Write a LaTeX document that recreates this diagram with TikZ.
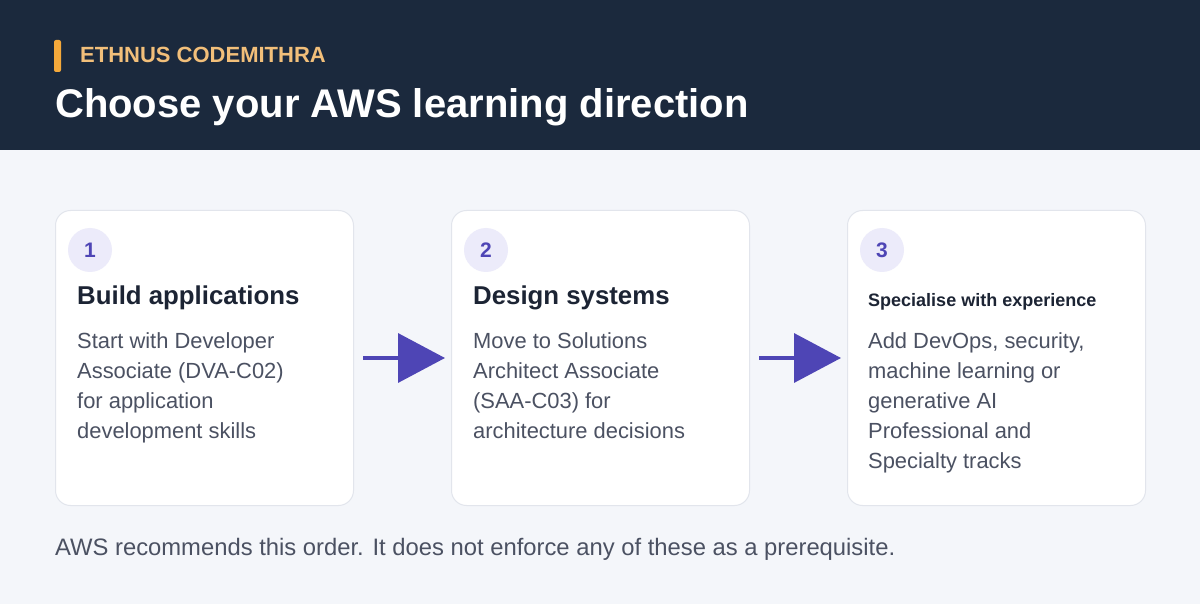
\documentclass[tikz,border=0pt]{standalone}
\usepackage{fontspec}
\setmainfont{Liberation Sans}
\usetikzlibrary{arrows.meta}
\definecolor{hdr}{HTML}{1B293D}
\definecolor{bg}{HTML}{F4F6FA}
\definecolor{cardline}{HTML}{E2E5EC}
\definecolor{accent}{HTML}{4E45B5}
\definecolor{numbg}{HTML}{ECEBFA}
\definecolor{headc}{HTML}{1C2434}
\definecolor{bodyc}{HTML}{4B5162}
\definecolor{brand}{HTML}{F2BF7A}
\definecolor{barc}{HTML}{F5A93B}
\tikzset{
  card/.style={draw=cardline, line width=1pt, fill=white, rounded corners=15pt, minimum width=298pt, minimum height=295pt, anchor=north west, inner sep=0pt},
  numcirc/.style={circle, fill=numbg, minimum size=44pt, inner sep=0pt, text=accent, font=\fontsize{21}{24}\selectfont\bfseries},
  cardhead/.style={anchor=base west, inner sep=0pt, text=headc, font=\fontsize{25.8}{30}\selectfont\bfseries},
  smallhead/.style={anchor=base west, inner sep=0pt, text=headc, font=\fontsize{18}{22}\selectfont\bfseries},
  cardbody/.style={anchor=base west, inner sep=0pt, text=bodyc, align=left, font=\fontsize{21.9}{30}\selectfont},
  flow/.style={draw=accent, line width=3.5pt, -{Triangle[length=47pt,width=49pt]}, fill=accent, shorten <=9pt, shorten >=6pt}
}
\begin{document}
\begin{tikzpicture}[x=1pt,y=-1pt]
\useasboundingbox (0,0) rectangle (1200,604);
\fill[bg] (0,0) rectangle (1200,604);
\fill[hdr] (0,0) rectangle (1200,150);
\fill[barc, rounded corners=2pt] (54,40) rectangle (61,72);
\node[anchor=base west, inner sep=0pt, text=brand, font=\fontsize{22}{26}\selectfont\bfseries] (brandtxt) at (80,63) {ETHNUS CODEMITHRA};
\node[anchor=base west, inner sep=0pt, text=white, font=\fontsize{40}{46}\selectfont\bfseries] (title) at (55,118) {Choose your AWS learning direction};

\node[card] (card1) at (55,210) {};
\node[card] (card2) at (451,210) {};
\node[card] (card3) at (847,210) {};

\node[numcirc] (num1) at (90,250) {1};
\node[numcirc] (num2) at (486,250) {2};
\node[numcirc] (num3) at (882,250) {3};

\node[cardhead] (head1) at (77,305) {Build applications};
\node[cardhead] (head2) at (473,305) {Design systems};
\node[smallhead] (head3) at (868,306) {Specialise with experience};

% base anchor of a multi-line node is its last line
\node[cardbody] (body1) at (77,438) {Start with Developer\\Associate (DVA-C02)\\for application\\development skills};
\node[cardbody] (body2) at (473,438) {Move to Solutions\\Architect Associate\\(SAA-C03) for\\architecture decisions};
\node[cardbody] (body3) at (868,468) {Add DevOps, security,\\machine learning or\\generative AI\\Professional and\\Specialty tracks};

\draw[flow] (card1.east) -- (card2.west);
\draw[flow] (card2.east) -- (card3.west);

\node[anchor=base west, inner sep=0pt, text=bodyc, font=\fontsize{23.8}{28}\selectfont] (foot) at (55,555) {AWS recommends this order. It does not enforce any of these as a prerequisite.};
\end{tikzpicture}
\end{document}
